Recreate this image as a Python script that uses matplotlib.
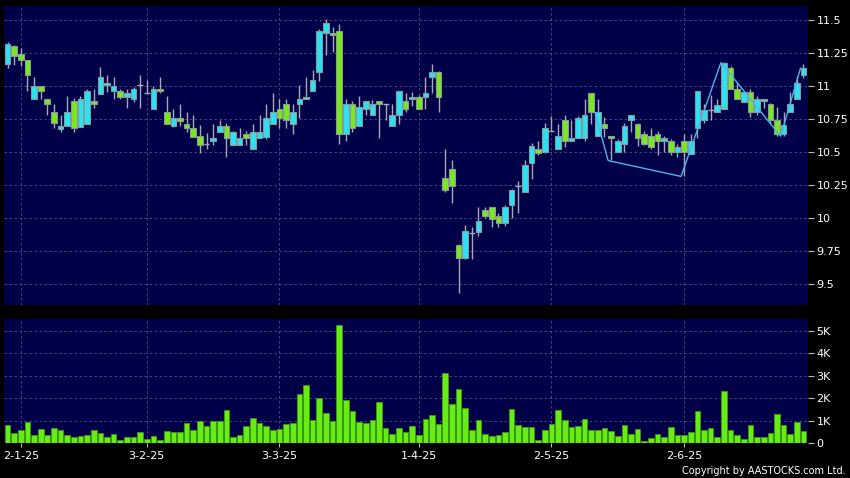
import numpy as np
import matplotlib.pyplot as plt
from matplotlib.ticker import FuncFormatter

# daily candles (price in HKD)
opens = [11.165, 11.30, 11.24, 11.20, 10.90, 11.00, 10.90, 10.80, 10.675, 10.70,
         10.885, 10.69, 10.715, 10.885, 10.94, 11.01, 10.96, 10.96, 10.92, 10.90,
         11.005, 10.945, 10.825, 10.98, 10.80, 10.70, 10.76, 10.715, 10.68, 10.62,
         10.56, 10.58, 10.655, 10.70, 10.555, 10.555, 10.64, 10.52, 10.605, 10.615,
         10.715, 10.825, 10.86, 10.715, 10.86, 10.90, 10.96, 11.105, 11.405, 11.405,
         11.42, 10.64, 10.86, 10.70, 10.825, 10.78, 10.885, 10.86, 10.70, 10.78,
         10.885, 10.90, 10.92, 10.92, 11.065, 11.105, 10.30, 10.375, 9.795, 9.695,
         9.885, 9.895, 10.06, 10.08, 10.015, 9.96, 10.095, 10.24, 10.20, 10.42,
         10.52, 10.50, 10.66, 10.52, 10.74, 10.585, 10.605, 10.605, 10.945, 10.62,
         10.715, 10.62, 10.50, 10.56, 10.74, 10.715, 10.64, 10.62, 10.64, 10.585,
         10.58, 10.50, 10.58, 10.485, 10.68, 10.74, 10.82, 10.80, 10.825, 11.14,
         10.98, 10.88, 10.955, 10.80, 10.885, 10.86, 10.74, 10.64, 10.80, 10.90,
         11.08]
highs = [11.33, 11.31, 11.29, 11.20, 11.07, 11.00, 10.90, 10.865, 10.78, 10.925,
         10.91, 10.925, 10.98, 10.98, 11.145, 11.085, 11.07, 10.98, 10.975, 10.99,
         11.08, 11.045, 11.00, 11.065, 10.925, 10.825, 10.86, 10.80, 10.78, 10.705,
         10.645, 10.715, 10.74, 10.72, 10.66, 10.68, 10.66, 10.715, 10.78, 10.865,
         10.945, 10.905, 10.905, 10.865, 11.01, 11.065, 11.12, 11.43, 11.505, 11.45,
         11.47, 10.90, 10.885, 10.925, 10.89, 10.895, 10.89, 10.86, 10.865, 10.96,
         10.945, 10.955, 10.93, 11.065, 11.165, 11.11, 10.52, 10.44, 9.80, 9.945,
         9.935, 10.08, 10.08, 10.08, 10.035, 10.10, 10.22, 10.28, 10.44, 10.565,
         10.585, 10.72, 10.77, 10.715, 10.78, 10.74, 10.77, 10.90, 10.95, 10.90,
         10.765, 10.62, 10.60, 10.72, 10.78, 10.72, 10.66, 10.68, 10.66, 10.62,
         10.60, 10.56, 10.64, 10.64, 10.96, 10.86, 10.93, 10.90, 11.18, 11.15,
         11.03, 10.96, 10.98, 10.925, 10.90, 10.87, 10.84, 10.805, 10.955, 11.075,
         11.17]
lows = [11.14, 11.16, 11.15, 10.96, 10.90, 10.90, 10.78, 10.68, 10.655, 10.70,
        10.655, 10.69, 10.71, 10.835, 10.94, 10.955, 10.90, 10.90, 10.835, 10.88,
        10.835, 10.945, 10.825, 10.945, 10.715, 10.69, 10.70, 10.655, 10.615, 10.495,
        10.52, 10.555, 10.655, 10.46, 10.555, 10.555, 10.555, 10.52, 10.605, 10.60,
        10.715, 10.68, 10.68, 10.64, 10.76, 10.90, 10.96, 11.04, 11.235, 11.26,
        10.56, 10.58, 10.655, 10.70, 10.78, 10.78, 10.605, 10.74, 10.70, 10.715,
        10.80, 10.845, 10.825, 10.825, 10.945, 10.80, 10.20, 10.115, 9.435, 9.69,
        9.69, 9.865, 10.00, 9.935, 9.935, 9.94, 10.00, 10.035, 10.20, 10.295,
        10.475, 10.495, 10.66, 10.52, 10.54, 10.585, 10.605, 10.585, 10.715, 10.62,
        10.615, 10.44, 10.50, 10.50, 10.655, 10.545, 10.55, 10.52, 10.475, 10.50,
        10.48, 10.465, 10.315, 10.485, 10.605, 10.72, 10.74, 10.80, 10.825, 10.98,
        10.90, 10.88, 10.765, 10.78, 10.835, 10.715, 10.62, 10.62, 10.80, 10.90,
        11.06]
closes = [11.32, 11.23, 11.20, 11.08, 11.00, 10.96, 10.865, 10.72, 10.70, 10.80,
          10.68, 10.90, 10.96, 10.86, 11.065, 11.02, 11.00, 10.92, 10.945, 10.98,
          11.005, 10.945, 10.98, 10.96, 10.715, 10.76, 10.735, 10.68, 10.615, 10.555,
          10.56, 10.605, 10.70, 10.605, 10.655, 10.605, 10.605, 10.655, 10.655, 10.76,
          10.80, 10.76, 10.74, 10.80, 10.90, 10.92, 11.045, 11.42, 11.48, 11.385,
          10.64, 10.86, 10.68, 10.84, 10.885, 10.86, 10.86, 10.86, 10.78, 10.96,
          10.825, 10.92, 10.825, 10.945, 11.105, 10.92, 10.215, 10.24, 9.695, 9.90,
          9.885, 9.975, 10.015, 9.99, 9.96, 10.08, 10.215, 10.24, 10.40, 10.545,
          10.495, 10.68, 10.66, 10.62, 10.585, 10.605, 10.76, 10.78, 10.80, 10.80,
          10.68, 10.605, 10.585, 10.70, 10.78, 10.605, 10.56, 10.54, 10.585, 10.605,
          10.50, 10.54, 10.50, 10.58, 10.96, 10.82, 10.82, 10.855, 11.175, 10.98,
          10.90, 10.955, 10.80, 10.90, 10.90, 10.74, 10.64, 10.705, 10.86, 11.02,
          11.14]
# volume in thousands
volumes = [0.80, 0.43, 0.59, 0.92, 0.37, 0.64, 0.37, 0.67, 0.56, 0.37,
           0.25, 0.33, 0.37, 0.58, 0.46, 0.28, 0.40, 0.15, 0.25, 0.25,
           0.49, 0.18, 0.31, 0.15, 0.55, 0.50, 0.47, 0.87, 0.59, 0.98,
           0.77, 0.99, 0.99, 1.46, 0.28, 0.37, 0.75, 1.12, 0.87, 0.75,
           0.56, 0.64, 0.86, 0.90, 2.20, 2.57, 1.01, 2.01, 1.35, 0.99,
           5.25, 1.92, 1.43, 0.92, 0.90, 1.02, 1.83, 0.68, 0.40, 0.68,
           0.49, 0.74, 0.37, 1.07, 1.24, 0.86, 3.12, 1.73, 2.40, 1.54,
           0.59, 1.02, 0.38, 0.31, 0.37, 0.49, 1.51, 0.81, 0.71, 0.71,
           0.15, 0.58, 0.86, 1.49, 1.01, 0.70, 0.77, 1.05, 0.59, 0.59,
           0.65, 0.55, 0.33, 0.80, 0.40, 0.64, 0.10, 0.22, 0.41, 0.28,
           0.71, 0.37, 0.34, 0.47, 1.43, 0.59, 0.67, 0.25, 2.31, 0.59,
           0.36, 0.18, 0.81, 0.25, 0.28, 0.44, 1.29, 0.78, 0.41, 0.95,
           0.55]

date_labels = ["2-1-25", "3-2-25", "3-3-25", "1-4-25", "2-5-25", "2-6-25"]
date_pos = [2, 21, 41, 62, 82, 102]

# zigzag turning points (candle index, price)
zz_idx = [89, 91, 102, 108, 117, 120]
zz_val = [10.80, 10.435, 10.315, 11.177, 10.62, 11.135]

price_ticks = [9.5, 9.75, 10, 10.25, 10.5, 10.75, 11, 11.25, 11.5]
vol_ticks = [0, 1, 2, 3, 4, 5]

BG = "#000048"
GRID = "#50508a"
CYAN = "#2ae2f2"
GREEN = "#7ae81e"
VOLGREEN = "#66ee14"
EDGE = "#8a9a9a"
WICK = "#a8a8b0"

fig = plt.figure(figsize=(8.5, 4.78), dpi=100, facecolor="black")
ax = fig.add_axes([4 / 850, 1 - 305 / 478, 804 / 850, 299 / 478])
axv = fig.add_axes([4 / 850, 1 - 443 / 478, 804 / 850, 124 / 478])

x = np.arange(len(opens))
o = np.array(opens)
c = np.array(closes)
up = c > o
down = c < o
flat = c == o

ax.vlines(x, lows, highs, color=WICK, lw=1, zorder=2)
ax.bar(x[up], (c - o)[up], bottom=o[up], width=0.85, color=CYAN,
       edgecolor=EDGE, lw=0.8, zorder=3)
ax.bar(x[down], (o - c)[down], bottom=c[down], width=0.85, color=GREEN,
       edgecolor=EDGE, lw=0.8, zorder=3)
ax.hlines(o[flat], x[flat] - 0.45, x[flat] + 0.45, color=WICK, lw=1, zorder=3)

ax.plot(np.array(zz_idx) - 0.45, zz_val, color="#4cb4ec", lw=1, zorder=4)

axv.bar(x, volumes, width=0.85, color=VOLGREEN, edgecolor="#3e9a10", lw=0.6, zorder=3)

for a in (ax, axv):
    a.set_facecolor(BG)
    a.set_xlim(-0.53, 120.68)
    for s in a.spines.values():
        s.set_visible(False)
    a.yaxis.tick_right()
    a.tick_params(axis="y", colors="#bbbbbb", labelcolor="white", labelsize=8,
                  length=4, pad=2)
    a.set_xticks(date_pos)
    a.grid(True, color=GRID, ls=(0, (3, 3)), lw=0.6, zorder=0)

ax.set_ylim(9.341, 11.606)
ax.set_yticks(price_ticks)
ax.yaxis.set_major_formatter(FuncFormatter(lambda v, p: f"{v:g}"))
ax.tick_params(axis="x", length=0, labelbottom=False)

axv.set_ylim(0, 5.52)
axv.set_yticks(vol_ticks)
axv.yaxis.set_major_formatter(FuncFormatter(lambda v, p: "0" if v == 0 else f"{v:g}K"))
axv.set_xticklabels(date_labels)
axv.tick_params(axis="x", colors="#bbbbbb", labelcolor="white", labelsize=8,
                length=3, pad=3)

fig.text(0.995, 0.004, "Copyright by AASTOCKS.com Ltd.", ha="right", va="bottom",
         color="white", fontsize=7)

fig.savefig("out.png", dpi=100, facecolor="black")
